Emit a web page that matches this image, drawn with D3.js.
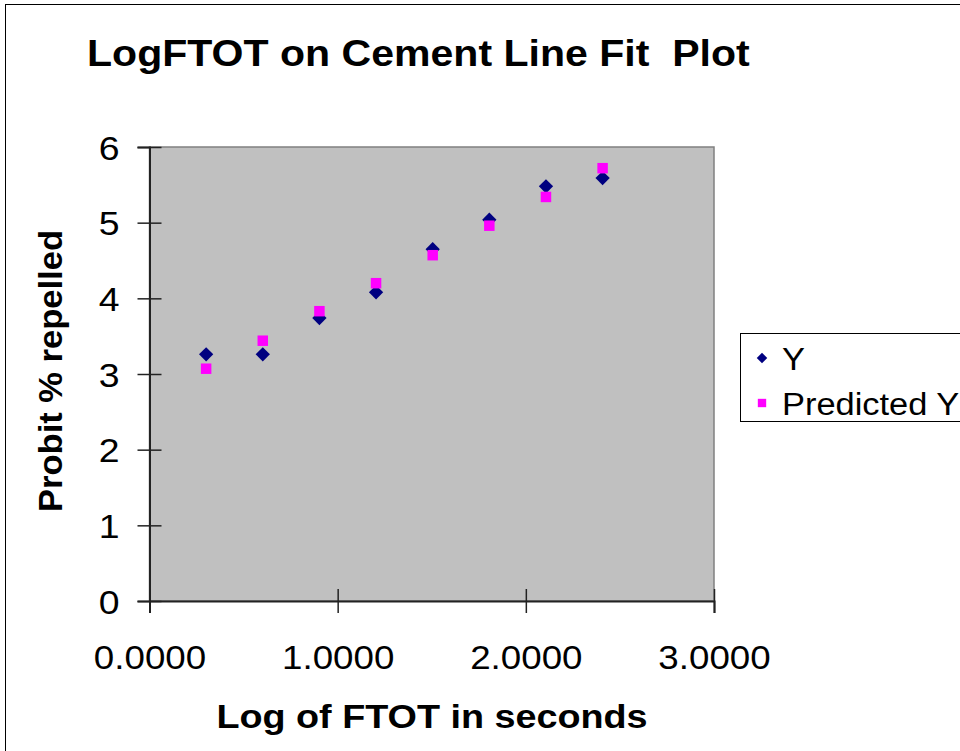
<!DOCTYPE html>
<html>
<head>
<meta charset="utf-8">
<script src="https://cdn.jsdelivr.net/npm/d3@7"></script>
<style>
  body { margin: 0; background: #fff; }
  text { font-family: "Liberation Sans", Arial, sans-serif; }
</style>
</head>
<body>
<svg id="chart"></svg>
<script>
// values
var logTime = [0.301, 0.602, 0.903, 1.204, 1.505, 1.806, 2.107, 2.408];
var observedY = [3.26, 3.26, 3.74, 4.08, 4.65, 5.04, 5.48, 5.59];
var predictedY = [3.07, 3.44, 3.83, 4.20, 4.57, 4.96, 5.34, 5.72];
var xTicks = [0, 1, 2, 3];
var yTicks = [0, 1, 2, 3, 4, 5, 6];
var seriesNames = ["Y", "Predicted Y"];

var width = 960, height = 751;
var plotLeft = 149.5, plotRight = 714, plotTop = 147, plotBottom = 601;

// the reference text is drawn a bit wide
function widen(sel, k) {
  sel.each(function(){
    var len = this.getComputedTextLength();
    d3.select(this).attr("textLength", len * k).attr("lengthAdjust", "spacingAndGlyphs");
  });
}

var svg = d3.select("#chart")
    .attr("width", width)
    .attr("height", height);

// outer chart border
svg.append("rect")
    .attr("x", 5.5).attr("y", 4.5)
    .attr("width", 1000).attr("height", 800)
    .attr("fill", "#fff")
    .attr("stroke", "#000")
    .attr("stroke-width", 1);

var x = d3.scaleLinear().domain([0, 3]).range([plotLeft, plotRight]);
var y = d3.scaleLinear().domain([0, 6]).range([plotBottom, plotTop]);

// plot area
svg.append("rect")
    .attr("x", plotLeft).attr("y", plotTop)
    .attr("width", plotRight - plotLeft).attr("height", plotBottom - plotTop)
    .attr("fill", "#c0c0c0")
    .attr("stroke", "#808080")
    .attr("stroke-width", 1.5);

var yAxis = svg.append("g")
    .attr("transform", "translate(" + plotLeft + ",0)")
    .call(d3.axisLeft(y).tickValues(yTicks).tickSize(12).tickFormat(d3.format("d")));
yAxis.select(".domain").attr("stroke", "#222").attr("stroke-width", 2);
yAxis.selectAll(".tick line").attr("x1", 12).attr("x2", -12)
    .attr("stroke", "#222").attr("stroke-width", 1.5);
yAxis.selectAll(".tick text")
    .attr("x", -30).attr("dy", "0.36em")
    .attr("font-size", 34).attr("fill", "#000")
    .attr("font-family", "Liberation Sans, Arial, sans-serif");
widen(yAxis.selectAll(".tick text"), 1.1);

var xAxis = svg.append("g")
    .attr("transform", "translate(0," + plotBottom + ")")
    .call(d3.axisBottom(x).tickValues(xTicks).tickSize(12).tickFormat(d3.format(".4f")));
xAxis.select(".domain").attr("stroke", "#222").attr("stroke-width", 2);
xAxis.selectAll(".tick line").attr("y1", -12).attr("y2", 12)
    .attr("stroke", "#222").attr("stroke-width", 1.5);
xAxis.selectAll(".tick text")
    .attr("y", 68).attr("dy", 0)
    .attr("font-size", 34).attr("fill", "#000")
    .attr("font-family", "Liberation Sans, Arial, sans-serif");
widen(xAxis.selectAll(".tick text"), 1.08);

// markers
var diamond = d3.symbol().type(d3.symbolDiamond2).size(130);
var square = d3.symbol().type(d3.symbolSquare).size(110);

svg.append("g").selectAll("path")
    .data(logTime)
    .enter()
    .append("path")
      .attr("d", diamond)
      .attr("transform", function(d, i){ return "translate(" + x(d) + "," + y(observedY[i]) + ")"; })
      .attr("fill", "#000080");

svg.append("g").selectAll("path")
    .data(logTime)
    .enter()
    .append("path")
      .attr("d", square)
      .attr("transform", function(d, i){ return "translate(" + x(d) + "," + y(predictedY[i]) + ")"; })
      .attr("fill", "#ff00ff");

// titles
var title = svg.append("text")
    .attr("x", 87).attr("y", 66)
    .attr("font-size", 36).attr("font-weight", "bold")
    .style("white-space", "pre")
    .text("LogFTOT on Cement Line Fit  Plot");
widen(title, 1.14);

var xTitle = svg.append("text")
    .attr("x", 432).attr("y", 728)
    .attr("text-anchor", "middle")
    .attr("font-size", 34).attr("font-weight", "bold")
    .text("Log of FTOT in seconds");
widen(xTitle, 1.11);

svg.append("text")
    .attr("transform", "translate(62,371) rotate(-90)")
    .attr("text-anchor", "middle")
    .attr("font-size", 34).attr("font-weight", "bold")
    .attr("textLength", 282).attr("lengthAdjust", "spacingAndGlyphs")
    .text("Probit % repelled");

// legend
var legend = svg.append("g");
legend.append("rect")
    .attr("x", 740.5).attr("y", 333.5)
    .attr("width", 300).attr("height", 88)
    .attr("fill", "#fff").attr("stroke", "#000").attr("stroke-width", 1);

legend.selectAll("path")
    .data(seriesNames)
    .enter()
    .append("path")
      .attr("d", function(d, i){ return i === 0 ? d3.symbol().type(d3.symbolDiamond2).size(70)() : d3.symbol().type(d3.symbolSquare).size(70)(); })
      .attr("transform", function(d, i){ return "translate(762," + (358 + i * 45) + ")"; })
      .attr("fill", function(d, i){ return i === 0 ? "#000080" : "#ff00ff"; });

var legendText = legend.selectAll("text")
    .data(seriesNames)
    .enter()
    .append("text")
      .attr("x", 782)
      .attr("y", function(d, i){ return 370 + i * 45; })
      .attr("font-size", 31)
      .text(function(d){ return d; });
widen(legendText, 1.11);
</script>
</body>
</html>
